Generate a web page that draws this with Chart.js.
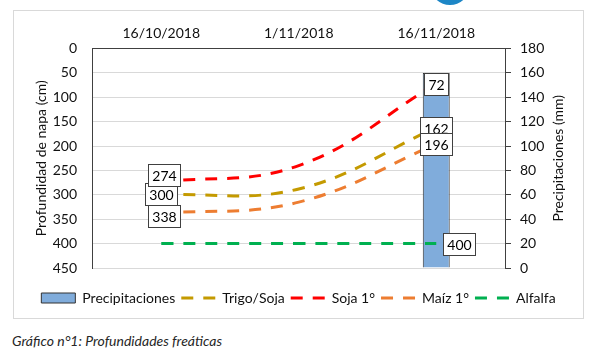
<!DOCTYPE html>
<html><head><meta charset="utf-8">
<script src="https://cdn.jsdelivr.net/npm/chart.js@4.4.0/dist/chart.umd.min.js"></script>
<style>
html,body{margin:0;padding:0;background:#fff;width:602px;height:355px;overflow:hidden;position:relative;}
#box{position:absolute;left:13px;top:10px;width:571px;height:309px;border:1px solid #d9d9d9;box-sizing:border-box;}
#c{position:absolute;left:0;top:0;}
#cap{position:absolute;left:12px;top:332px;font:italic 14px Lato, sans-serif;color:#262626;}
#logo{position:absolute;left:430px;top:-35px;width:40px;height:40px;border:7px solid #1d86c6;border-radius:50%;box-sizing:border-box;}
</style></head><body>
<div id="logo"></div>
<div id="box"><canvas id="c" width="569" height="307"></canvas></div>
<div id="cap">Gráfico n°1: Profundidades freáticas</div>
<script>
// ---- data ----
const categories = ['16/10/2018', '1/11/2018', '16/11/2018'];
const precipitaciones = [null, null, 160];   // mm (right axis)
const trigoSoja = [300, 288, 162];           // cm (left axis)
const soja1 = [274, 240, 72];
const maiz1 = [338, 315, 196];
const alfalfa = [400, 400, 400];
const depthTicks = [0, 50, 100, 150, 200, 250, 300, 350, 400, 450];
const rainTicks = [0, 20, 40, 60, 80, 100, 120, 140, 160, 180];

const TXT = '#111111', AXIS = '#404040';

const boxLabels = {
  id: 'boxLabels',
  afterDatasetsDraw(chart, args, opts) {
    const ctx = chart.ctx;
    ctx.save();
    ctx.font = opts.font;
    opts.items.forEach(it => {
      const el = chart.getDatasetMeta(it.dataset).data[it.index];
      const text = String(chart.data.datasets[it.dataset].data[it.index]);
      const w = Math.round(ctx.measureText(text).width + opts.padX * 2);
      const h = opts.height;
      let cx = el.x + (it.dx || 0), cy = el.y + (it.dy || 0);
      if (it.align === 'right') cx = el.x + it.gap + w / 2;
      const x = Math.round(cx - w / 2) + 0.5, y = Math.round(cy - h / 2) + 0.5;
      ctx.fillStyle = '#fff';
      ctx.fillRect(x, y, w, h);
      ctx.strokeStyle = AXIS; ctx.lineWidth = 1;
      ctx.strokeRect(x, y, w, h);
      ctx.fillStyle = '#000'; ctx.textAlign = 'center'; ctx.textBaseline = 'middle';
      ctx.fillText(text, x + w / 2, y + h / 2 + 1);
    });
    ctx.restore();
  }
};

const rightTitle = {
  id: 'rightTitle',
  afterDraw(chart, args, opts) {
    const {ctx, chartArea} = chart;
    ctx.save();
    ctx.translate(opts.x, (chartArea.top + chartArea.bottom) / 2);
    ctx.rotate(-Math.PI / 2);
    ctx.font = opts.font; ctx.fillStyle = TXT;
    ctx.textAlign = 'center'; ctx.textBaseline = 'middle';
    ctx.fillText(opts.text, 0, 0);
    ctx.restore();
  }
};

function make() {
  Chart.defaults.font.family = 'Lato';
  Chart.defaults.font.size = 14;
  Chart.defaults.color = TXT;
  const dash = [12, 10];
  new Chart(document.getElementById('c'), {
    data: {
      labels: categories,
      datasets: [
        {type: 'bar', label: 'Precipitaciones', data: precipitaciones, yAxisID: 'y1', order: 1,
         backgroundColor: '#80acdb', borderColor: '#333333', borderWidth: 1,
         barPercentage: 0.196, categoryPercentage: 1},
        {type: 'line', label: 'Trigo/Soja', data: trigoSoja, yAxisID: 'y', order: 0,
         borderColor: '#c49a00', borderWidth: 3, borderDash: dash, tension: 0.4, pointRadius: 0, fill: false},
        {type: 'line', label: 'Soja 1°', data: soja1, yAxisID: 'y', order: 0,
         borderColor: '#ff0000', borderWidth: 3, borderDash: dash, tension: 0.4, pointRadius: 0, fill: false},
        {type: 'line', label: 'Maíz 1°', data: maiz1, yAxisID: 'y', order: 0,
         borderColor: '#ed7d31', borderWidth: 3, borderDash: dash, tension: 0.4, pointRadius: 0, fill: false},
        {type: 'line', label: 'Alfalfa', data: alfalfa, yAxisID: 'y', order: 0,
         borderColor: '#00b050', borderWidth: 3, borderDash: dash, tension: 0.4, pointRadius: 0, fill: false}
      ]
    },
    options: {
      responsive: false, animation: false, devicePixelRatio: 1,
      layout: {padding: {left: 0, right: 0, top: 0, bottom: 3}},
      scales: {
        x: {type: 'category', position: 'top', offset: true,
            grid: {display: false, drawTicks: false},
            border: {display: true, color: AXIS, width: 1},
            ticks: {padding: 7, autoSkip: false, maxRotation: 0},
            afterFit: s => { s.height = 37.5; }},
        y: {position: 'left', reverse: true, min: 0, max: 450,
            afterBuildTicks: s => { s.ticks = depthTicks.map(v => ({value: v})); },
            ticks: {padding: 15.5},
            grid: {color: '#d9d9d9', drawTicks: false},
            border: {color: AXIS},
            title: {display: true, text: 'Profundidad de napa (cm)', padding: {top: 18.6, bottom: 0}},
            afterFit: s => { s.width = 78.5; }},
        y1: {position: 'right', min: 0, max: 180,
             afterBuildTicks: s => { s.ticks = rainTicks.map(v => ({value: v})); },
             ticks: {padding: 9},
             grid: {drawOnChartArea: false, drawTicks: true, tickLength: 6, color: AXIS},
             border: {color: AXIS},
             afterFit: s => { s.width = 78; }}
      },
      plugins: {
        tooltip: {enabled: false},
        legend: {
          position: 'bottom',
          title: {display: true, text: '', font: {size: 10, lineHeight: 1}, padding: {top: 7, bottom: 0}},
          labels: {
            usePointStyle: true, pointStyleWidth: 34, boxHeight: 10, padding: 6,
            font: {size: 14}, color: TXT,
            generateLabels: chart => chart.data.datasets.map((ds, i) => ({
              text: ds.label, datasetIndex: i, hidden: false, fontColor: TXT,
              fillStyle: ds.type === 'bar' ? ds.backgroundColor : ds.borderColor,
              strokeStyle: ds.borderColor,
              lineWidth: ds.type === 'bar' ? 1 : 3,
              lineDash: ds.type === 'bar' ? [] : ds.borderDash,
              lineCap: 'butt',
              pointStyle: ds.type === 'bar' ? 'rect' : 'line'
            }))
          }
        },
        boxLabels: {
          font: '14px Lato', padX: 4, height: 22,
          items: [
            {dataset: 1, index: 0, dx: 0, dy: -0.5},
            {dataset: 2, index: 0, dx: 3, dy: -7.5},
            {dataset: 3, index: 0, dx: 3, dy: 2.3},
            {dataset: 1, index: 2, dx: 0, dy: 0},
            {dataset: 2, index: 2, dx: 0, dy: 0},
            {dataset: 3, index: 2, dx: 0, dy: 0},
            {dataset: 4, index: 2, align: 'right', gap: 7}
          ]
        },
        rightTitle: {text: 'Precipitaciones (mm)', x: 544, font: '14px Lato'}
      }
    },
    plugins: [boxLabels, rightTitle]
  });
}
if (document.fonts && document.fonts.load) {
  Promise.all([document.fonts.load('14px Lato'), document.fonts.load('italic 14px Lato')]).then(make, make);
} else make();
</script>
</body></html>
